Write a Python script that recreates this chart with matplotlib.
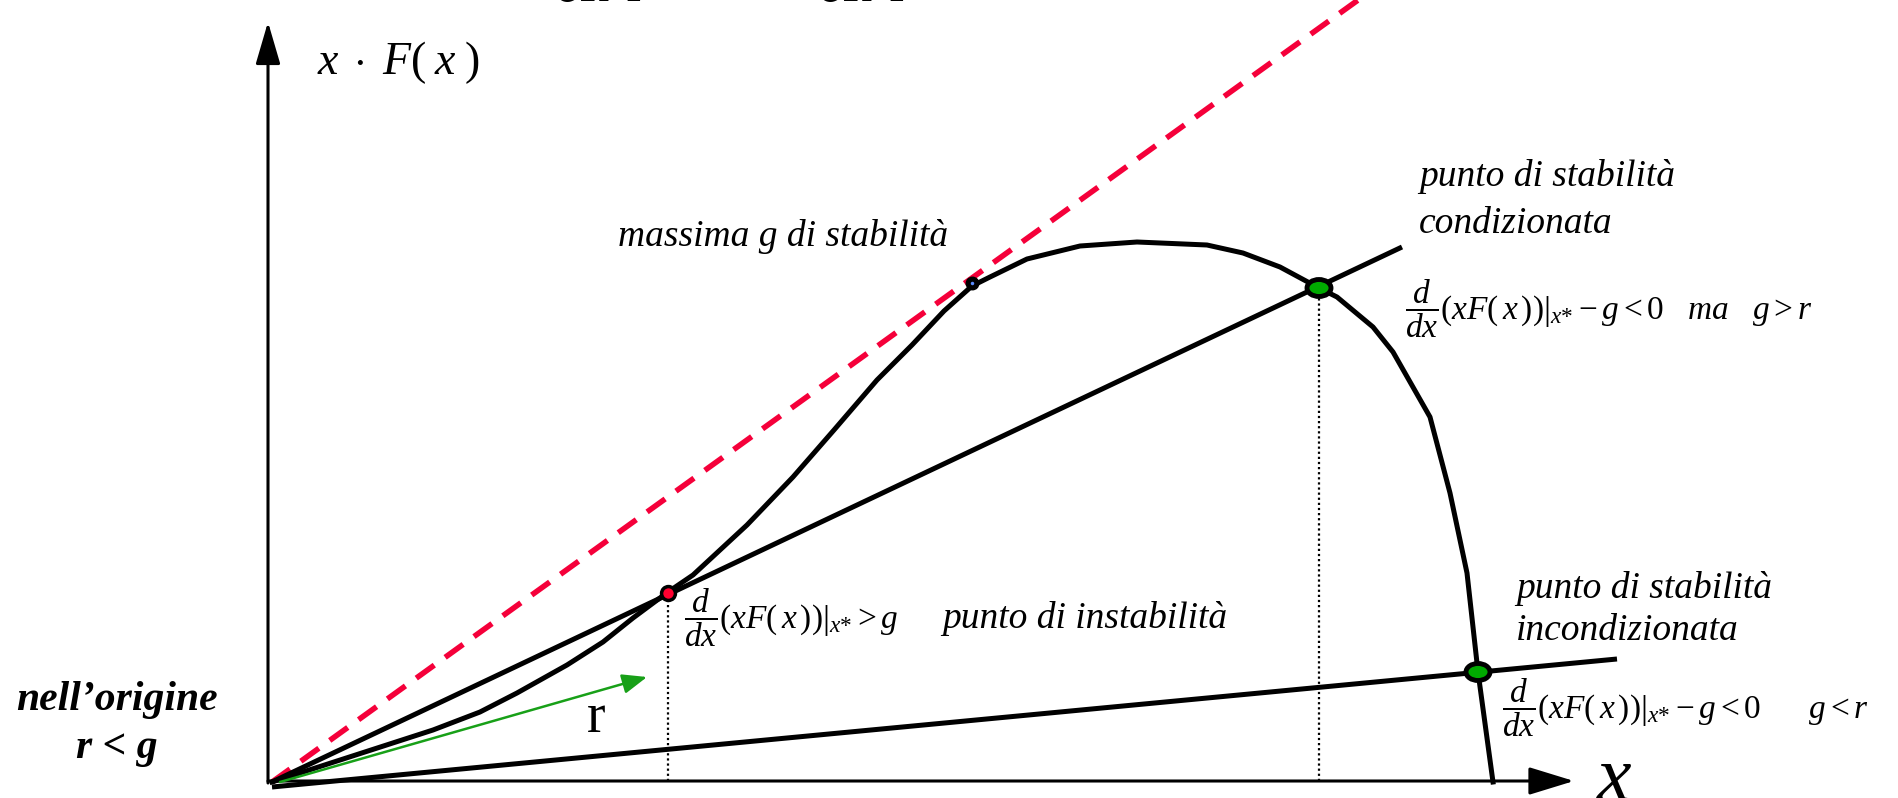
import matplotlib.pyplot as plt
from matplotlib.patches import Ellipse

plt.rcParams['font.family'] = ['Liberation Serif', 'DejaVu Serif']
plt.rcParams['mathtext.fontset'] = 'custom'
plt.rcParams['mathtext.rm'] = 'Liberation Serif'
plt.rcParams['mathtext.it'] = 'Liberation Serif:italic'
plt.rcParams['mathtext.bf'] = 'Liberation Serif:bold'

# x*F(x) curve (freehand shape), origin at (0, 0)
curve_x = [0, 1.61, 2.08, 2.45, 2.95, 3.31, 3.61, 3.96, 4.21, 4.75, 5.21, 5.62,
           6.05, 6.40, 6.72, 7.00, 7.18, 7.55, 8.08, 8.65, 9.35, 9.71, 10.08,
           10.47, 10.65, 11.01, 11.21, 11.58, 11.78, 11.95, 12.06, 12.21]
curve_y = [0, 0.52, 0.70, 0.89, 1.17, 1.40, 1.64, 1.90, 2.07, 2.57, 3.05, 3.52,
           4.02, 4.37, 4.71, 4.96, 5.05, 5.23, 5.36, 5.40, 5.37, 5.29, 5.15,
           4.94, 4.85, 4.55, 4.30, 3.65, 2.89, 2.09, 1.10, 0.00]

# straight lines g*x through the origin
g_max_slope = 0.72           # tangent line (red dashed)
g_line_x = [0, 11.30]        # line crossing the curve twice
g_line_y = [0, 5.35]
g_low_x = [0, 13.45]         # low slope line
g_low_y = [-0.05, 1.23]
r_arrow = [(0.08, 0.0), (3.75, 1.05)]

# equilibrium points
p_unstable = (3.96, 1.89)
p_cond = (10.47, 4.94)
p_uncond = (12.06, 1.10)
p_tangent = (7.00, 4.99)

fig = plt.figure(figsize=(18.99, 7.98), dpi=100)
ax = fig.add_axes([0, 0, 1, 1])
ax.set_xlim(-2.72, 16.27)
ax.set_ylim(-0.16, 7.82)
ax.axis('off')

# axes with arrows
ax.annotate('', xy=(-0.04, 7.60), xytext=(-0.04, -0.01),
            arrowprops=dict(arrowstyle='-|>,head_length=1.3,head_width=0.38',
                            mutation_scale=20, lw=2.2, color='black',
                            shrinkA=0, shrinkB=0))
ax.annotate('', xy=(13.02, 0.01), xytext=(-0.04, 0.01),
            arrowprops=dict(arrowstyle='-|>,head_length=1.4,head_width=0.43',
                            mutation_scale=20, lw=2.2, color='black',
                            shrinkA=0, shrinkB=0))

# tangent line of maximum g
ax.plot([0, 8.2 / g_max_slope], [0, 8.2], color='#f5003a', lw=4,
        dashes=(4, 2.4), solid_capstyle='butt', zorder=2)

ax.plot(g_line_x, g_line_y, color='black', lw=3.6, solid_capstyle='butt', zorder=3)
ax.plot(g_low_x, g_low_y, color='black', lw=3.6, solid_capstyle='butt', zorder=3)
ax.plot(curve_x, curve_y, color='black', lw=3.6, solid_joinstyle='round', zorder=3)

# growth rate r
ax.annotate('', xy=r_arrow[1], xytext=r_arrow[0],
            arrowprops=dict(arrowstyle='-|>,head_length=1.5,head_width=0.6',
                            mutation_scale=10, lw=1.8, color='#18a018',
                            shrinkA=0, shrinkB=0), zorder=4)
ax.text(3.24, 0.64, 'r', fontsize=40, ha='center', va='center')

# projections on the x axis
for px, py in [p_unstable, p_cond]:
    ax.plot([px, px], [0.01, py], color='black', lw=1.6, dashes=(1, 1.3), zorder=2)

# points
ax.plot(*p_unstable, 'o', ms=10, mfc='#ff0030', mec='black', mew=2.5, zorder=6)
ax.plot(*p_tangent, 'o', ms=9, mfc='black', mec='black', zorder=6)
ax.plot(*p_tangent, 'o', ms=2.5, mfc='#5a8cff', mec='none', zorder=7)
for px, py in [p_cond, p_uncond]:
    ax.add_patch(Ellipse((px, py), 0.24, 0.17, fc='#00aa00', ec='black',
                         lw=3.5, zorder=6))

# labels
deriv = r'\dfrac{d}{dx}\left.\left(xF(\,x\,)\right)\right|_{x{*}}'
ax.text(0.45, 7.19, r'$x\;\cdot\;F(\;x\;)$', fontsize=33, va='center')
ax.text(13.24, 0.01, '$x$', fontsize=56, va='center')
ax.text(2.79, 7.81, '$dx$', fontsize=70, va='baseline')
ax.text(5.42, 7.81, '$dx$', fontsize=70, va='baseline')
ax.text(3.46, 5.45, 'massima g di stabilità', fontsize=27, style='italic', va='center')
ax.text(11.47, 6.06, 'punto di stabilità', fontsize=27, style='italic', va='center')
ax.text(11.47, 5.58, 'condizionata', fontsize=27, style='italic', va='center')
ax.text(11.33, 4.73, '$' + deriv + r' - g < \mathit{0}\quad ma\quad g > r$',
        fontsize=24, va='center')
ax.text(4.12, 1.64, '$' + deriv + r' > g$', fontsize=24, va='center')
ax.text(6.70, 1.64, 'punto di instabilità', fontsize=27, style='italic', va='center')
ax.text(12.44, 1.93, 'punto di stabilità', fontsize=27, style='italic', va='center')
ax.text(12.44, 1.51, 'incondizionata', fontsize=27, style='italic', va='center')
ax.text(12.30, 0.74, '$' + deriv + r' - g < \mathit{0}\qquad g < r$',
        fontsize=24, va='center')
ax.text(-1.55, 0.82, 'nell’origine', fontsize=30, style='italic',
        weight='bold', ha='center', va='center')
ax.text(-1.55, 0.34, 'r < g', fontsize=30, style='italic',
        weight='bold', ha='center', va='center')

fig.savefig('out.png', dpi=100)
